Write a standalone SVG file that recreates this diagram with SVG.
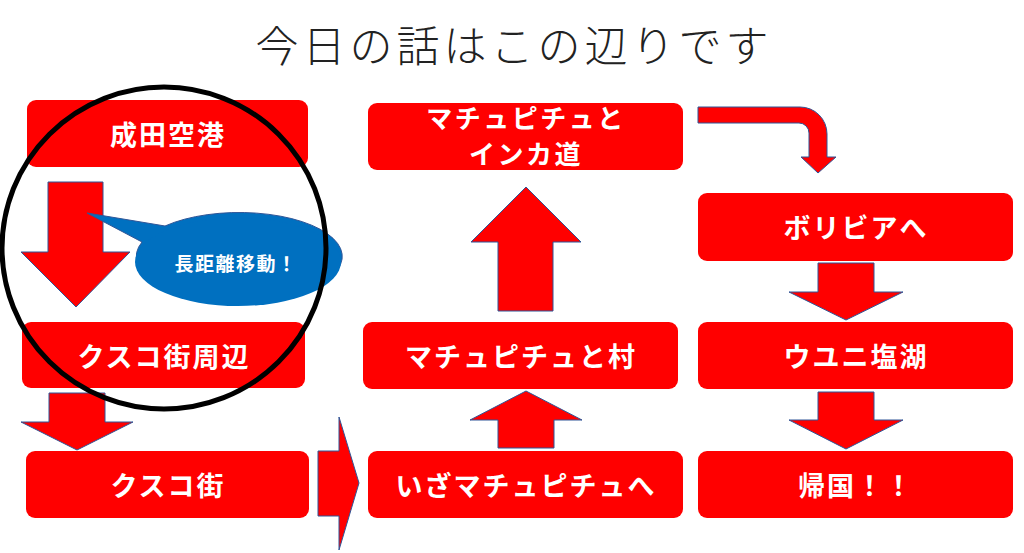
<svg xmlns="http://www.w3.org/2000/svg" width="1024" height="553" viewBox="0 0 1024 553">
<style>
.box{fill:#FF0000;}
.lbl{fill:#FFFFFF;font-family:"Noto Sans CJK JP","Noto Sans CJK SC",sans-serif;font-weight:bold;font-size:27px;letter-spacing:2px;text-anchor:middle;dominant-baseline:central;}
.lbl2{fill:#FFFFFF;font-family:"Noto Sans CJK JP","Noto Sans CJK SC",sans-serif;font-weight:bold;font-size:26px;letter-spacing:2.5px;text-anchor:middle;}
.arr{fill:#FF0000;stroke:#2F5597;stroke-width:1;stroke-linejoin:miter;}
.title{fill:#222222;font-family:"Noto Sans CJK JP","Noto Sans CJK SC",sans-serif;font-weight:300;font-size:43px;letter-spacing:4px;text-anchor:middle;}
</style>
<rect width="1024" height="553" fill="#FFFFFF"/>
<text class="title" x="514" y="62">今日の話はこの辺りです</text>

<g id="connectors">
  <polygon class="arr" points="48,182 103,182 103,252 130,252 76,307 21,252 48,252"/>
  <polygon class="arr" points="49,393 105,393 105,422 133,422 77,450 21,422 49,422"/>
  <polygon class="arr" points="318,451 339,451 339,417 359,483 339,550 339,516 318,516"/>
  <polygon class="arr" points="498,448 554,448 554,420 582,420 526,391 470,420 498,420"/>
  <polygon class="arr" points="498,311 553,311 553,242 581,242 526,187 471,242 498,242"/>
  <path class="arr" d="M698,107 L800,107 A27,27 0 0 1 827,134 L827,157 L836,157 L818,173 L801,157 L809,157 L809,133 A10,10 0 0 0 799,123 L698,123 Z"/>
  <polygon class="arr" points="818,263 874,263 874,292 903,292 846,320 789,292 818,292"/>
  <polygon class="arr" points="818,392 874,392 874,420 903,420 846,449 789,420 818,420"/>
</g>

<g id="n-narita"><rect class="box" x="27" y="100" width="281" height="67" rx="9"/><text class="lbl" x="168" y="133">成田空港</text></g>
<g id="n-cusco-area"><rect class="box" x="22" y="322" width="283" height="66" rx="9"/><text class="lbl" x="164" y="355">クスコ街周辺</text></g>
<g id="n-cusco"><rect class="box" x="26" y="451" width="283" height="67" rx="9"/><text class="lbl" x="168" y="484">クスコ街</text></g>
<g id="n-iza"><rect class="box" x="368" y="451" width="315" height="67" rx="9"/><text class="lbl" x="526" y="484">いざマチュピチュへ</text></g>
<g id="n-village"><rect class="box" x="363" y="322" width="315" height="67" rx="9"/><text class="lbl" x="521" y="355">マチュピチュと村</text></g>
<g id="n-inca"><rect class="box" x="368" y="103" width="315" height="67" rx="9"/><text class="lbl2" x="526" y="128">マチュピチュと</text><text class="lbl2" x="526" y="164">インカ道</text></g>
<g id="n-bolivia"><rect class="box" x="698" y="193" width="315" height="68" rx="9"/><text class="lbl" x="856" y="226">ボリビアへ</text></g>
<g id="n-uyuni"><rect class="box" x="698" y="322" width="315" height="67" rx="9"/><text class="lbl" x="856" y="355">ウユニ塩湖</text></g>
<g id="n-return"><rect class="box" x="698" y="451" width="315" height="67" rx="9"/><text class="lbl" x="856" y="484">帰国！！</text></g>

<g id="callout">
  <path d="M87,213 L165,226 A103,44 0 1 1 142,242 Z" fill="#0070C0" stroke="#2F5597" stroke-width="1"/>
  <ellipse cx="238" cy="262" rx="103" ry="44" fill="#0070C0"/>
  <text x="236" y="262" fill="#FFFFFF" font-family="'Noto Sans CJK JP','Noto Sans CJK SC',sans-serif" font-weight="bold" font-size="19" letter-spacing="1.5" text-anchor="middle" dominant-baseline="central">長距離移動！</text>
</g>

<g id="highlight">
  <ellipse cx="164" cy="248" rx="162" ry="161" fill="none" stroke="#000000" stroke-width="5"/>
</g>
</svg>
